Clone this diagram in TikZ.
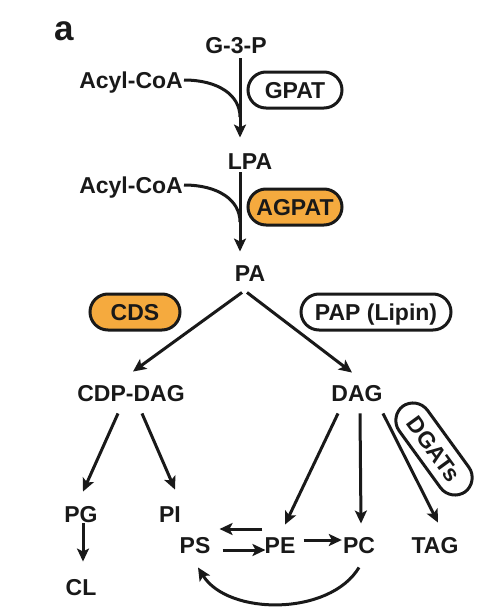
\documentclass[tikz,border=0pt]{standalone}
\usepackage{fontspec}
\setmainfont{Liberation Sans}
\usetikzlibrary{arrows.meta, calc}
\definecolor{enzorange}{RGB}{245,170,62}
\definecolor{ink}{RGB}{25,25,25}

\begin{document}
\begin{tikzpicture}[x=1pt, y=-1pt,
    lipid/.style={font=\fontsize{23}{25}\selectfont\bfseries, text=ink,
                  inner sep=1pt, text height=16.5pt, text depth=0pt},
    enzyme/.style={lipid, draw=ink, line width=3pt, rounded corners=18pt,
                   minimum height=36pt, inner sep=0pt},
    flow/.style={draw=ink, line width=3pt,
                 -{Stealth[length=13pt, width=12pt, inset=3pt]}},
    feed/.style={draw=ink, line width=3pt}]
\useasboundingbox (0,0) rectangle (500,616);

\node[lipid, font=\fontsize{35}{37}\selectfont\bfseries, text height=18.5pt] (panel) at (64,31) {a};

% lipids
\node[lipid] (g3p)    at (236,45)  {G-3-P};
\node[lipid, anchor=east] (acyla) at (184,80)  {Acyl-CoA};
\node[lipid] (lpa)    at (250,161) {LPA};
\node[lipid, anchor=east] (acylb) at (184,185) {Acyl-CoA};
\node[lipid] (pa)     at (250,273) {PA};
\node[lipid] (cdpdag) at (131,393) {CDP-DAG};
\node[lipid] (dag)    at (357,393) {DAG};
\node[lipid] (pg)     at (81,514)  {PG};
\node[lipid] (pi)     at (170,514) {PI};
\node[lipid] (cl)     at (81,587)  {CL};
\node[lipid] (ps)     at (195,545) {PS};
\node[lipid] (pe)     at (280,545) {PE};
\node[lipid] (pc)     at (359,545) {PC};
\node[lipid] (tag)    at (435,545) {TAG};

% enzymes
\node[enzyme, minimum width=94pt] (gpat) at (295,90) {GPAT};
\node[enzyme, minimum width=94pt, fill=enzorange] (agpat) at (295,207) {AGPAT};
\node[enzyme, minimum width=90pt, fill=enzorange] (cds) at (135,312) {CDS};
\node[enzyme, minimum width=150pt] (pap) at (376,312) {PAP (Lipin)};
\node[enzyme, minimum width=106pt, minimum height=35pt, rotate=-54] (dgat) at (434,449) {DGATs};

\coordinate (joina) at (240,117);
\coordinate (joinb) at (240,222);

\draw[flow, shorten <=4pt, shorten >=14pt] (g3p.south -| joina) -- (lpa.north -| joina);
\draw[feed] (acyla.east) .. controls (218,80) and (240,95) .. (joina);
\draw[flow, shorten <=2pt, shorten >=12pt] (lpa.south -| joinb) -- (pa.north -| joinb);
\draw[feed] (acylb.east) .. controls (218,185) and (240,200) .. (joinb);

\draw[flow] ([shift={(-8,10)}]pa.south) -- ([shift={(2,-12)}]cdpdag.north);
\draw[flow] ([shift={(-3,10)}]pa.south) -- ([shift={(-5,-11)}]dag.north);

\draw[flow] ([shift={(-13,11)}]cdpdag.south) -- ([shift={(2,-13)}]pg.north);
\draw[flow] ([shift={(11,11)}]cdpdag.south) -- ([shift={(5,-15)}]pi.north);
\draw[flow] ([shift={(2,0)}]pg.south) -- ([shift={(2,-16)}]cl.north);

\draw[flow] ([shift={(-19,11)}]dag.south) -- ([shift={(5,-11)}]pe.north);
\draw[flow] ([shift={(3,11)}]dag.south) -- ([shift={(2,-12)}]pc.north);
\draw[flow] ([shift={(26,11)}]dag.south) -- ([shift={(3,-13)}]tag.north);

\draw[flow] ([shift={(-1,-16)}]pe.west) -- ([shift={(8,-16)}]ps.east);
\draw[flow] ([shift={(11,5)}]ps.east) -- ([shift={(2,5)}]pe.west);
\draw[flow] ([shift={(7,-5)}]pe.east) -- ([shift={(0,-5)}]pc.west);
\draw[flow] ([shift={(0,13)}]pc.south) .. controls (330,616) and (228,616) .. ([shift={(3,13)}]ps.south);
\end{tikzpicture}
\end{document}
